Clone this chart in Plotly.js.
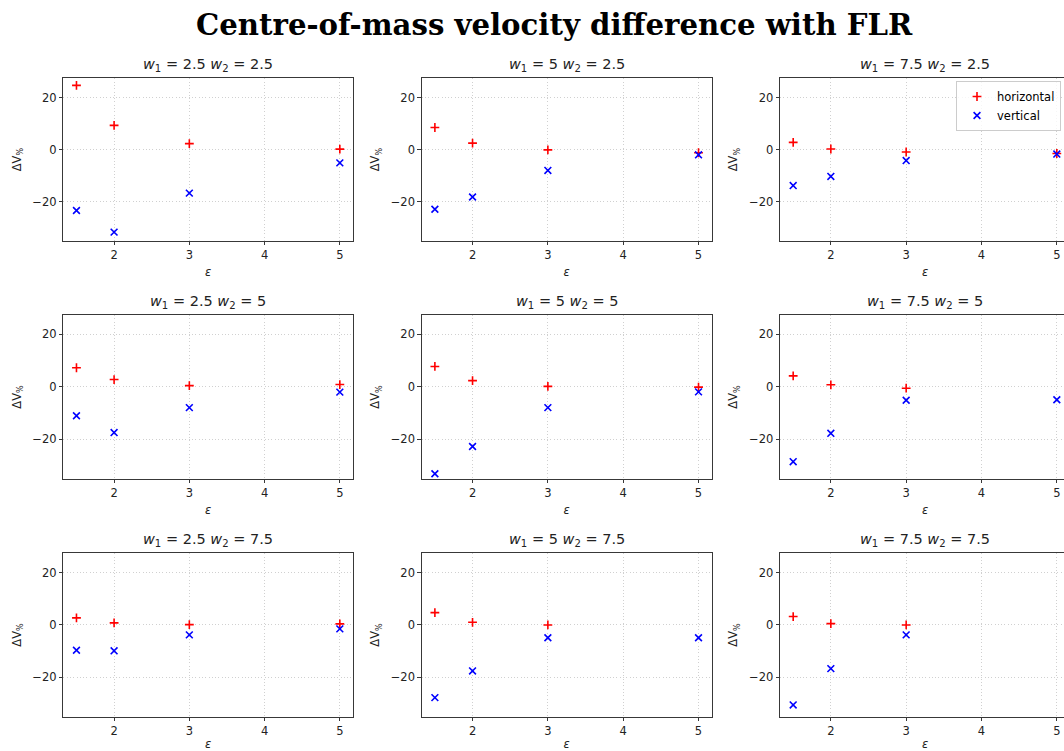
<!DOCTYPE html>
<html>
<head>
<meta charset="utf-8">
<script src="https://cdn.plot.ly/plotly-3.0.1.min.js"></script>
<style>
html, body { margin: 0; padding: 0; overflow: hidden; background: #fff; }
#chart { width: 1080px; height: 751px; }
</style>
</head>
<body>
<div id="chart"></div>
<script>
// ---- data ----
const epsilon = [1.5, 2, 3, 5];
const w1Values = ["2.5", "5", "7.5"];
const w2Values = ["2.5", "5", "7.5"];
// panels in row-major order: (w1, w2) = (2.5,2.5), (5,2.5), (7.5,2.5), (2.5,5), ...
const horizontal = [
  [24.7, 9.3, 2.3, 0.2],
  [8.5, 2.5, -0.1, -1.2],
  [2.8, 0.25, -0.9, -1.5],
  [7.3, 2.8, 0.5, 0.9],
  [7.8, 2.4, 0.2, -0.1],
  [4.2, 0.8, -0.5, null],
  [2.7, 0.8, 0.1, 0.4],
  [4.7, 1.0, 0.0, null],
  [3.2, 0.5, 0.0, null]
];
const vertical = [
  [-23.4, -31.7, -16.7, -5.1],
  [-22.9, -18.2, -8.0, -2.0],
  [-13.8, -10.3, -4.2, -1.7],
  [-11.0, -17.4, -7.9, -2.0],
  [-33.1, -22.7, -7.9, -1.9],
  [-28.5, -17.7, -5.1, -4.9],
  [-9.7, -9.9, -3.8, -1.5],
  [-27.8, -17.6, -4.9, -4.9],
  [-30.6, -16.7, -3.8, null]
];
const xTicks = [2, 3, 4, 5];
const yTicks = [-20, 0, 20];

// ---- layout geometry ----
const W = 1080, H = 751;
const colPx = [[63.3, 353], [421.7, 711.7], [780, 1070]];
const rowPx = [[78.3, 241], [315, 479], [553.3, 716.7]];
const FS = 11.5;

const traces = [];
const layout = {
  width: W, height: H,
  margin: {l: 0, r: 0, t: 0, b: 0},
  paper_bgcolor: '#fff', plot_bgcolor: '#fff',
  font: {family: 'DejaVu Sans', size: FS, color: '#000'},
  showlegend: true,
  legend: {
    x: 956 / W, y: 1 - 81 / H, xanchor: 'left', yanchor: 'top',
    bgcolor: 'rgba(255,255,255,0.8)', bordercolor: '#cccccc', borderwidth: 1,
    font: {family: 'DejaVu Sans', size: FS, color: '#000'},
    tracegroupgap: 0, itemwidth: 30
  },
  annotations: [{
    text: '<b>Centre-of-mass velocity difference with FLR</b>',
    xref: 'paper', yref: 'paper', x: 554 / W, y: 1 - 25 / H,
    xanchor: 'center', yanchor: 'middle', showarrow: false,
    font: {family: 'DejaVu Serif', size: 29.2, color: '#000'}
  }]
};

for (let r = 0; r < 3; r++) {
  for (let c = 0; c < 3; c++) {
    const i = r * 3 + c;
    const n = i + 1;
    const xa = n === 1 ? 'x' : 'x' + n;
    const ya = n === 1 ? 'y' : 'y' + n;
    traces.push({
      type: 'scatter', mode: 'markers', x: epsilon, y: horizontal[i],
      xaxis: xa, yaxis: ya, name: 'horizontal', showlegend: i === 0,
      marker: {symbol: 'cross-thin', size: 6.3, color: 'red', line: {color: 'red', width: 1.6}}
    });
    traces.push({
      type: 'scatter', mode: 'markers', x: epsilon, y: vertical[i],
      xaxis: xa, yaxis: ya, name: 'vertical', showlegend: i === 0,
      marker: {symbol: 'x-thin', size: 6.8, color: 'blue', line: {color: 'blue', width: 1.6}}
    });
    const axCommon = {
      showline: true, linecolor: '#222', linewidth: 0.9, mirror: true,
      ticks: 'outside', ticklen: 3.5, tickwidth: 0.9, tickcolor: '#222',
      showgrid: true, gridcolor: 'rgba(176,176,176,0.75)', gridwidth: 0.8, griddash: '1px,2.3px',
      zeroline: false, tickfont: {family: 'DejaVu Sans', size: FS, color: '#222'},
      fixedrange: true
    };
    layout['xaxis' + (n === 1 ? '' : n)] = Object.assign({}, axCommon, {
      domain: [colPx[c][0] / W, colPx[c][1] / W], anchor: ya,
      range: [1.325, 5.175], tickmode: 'array', tickvals: xTicks,
      title: {text: '<i>ε</i>', standoff: 6, font: {family: 'DejaVu Sans', size: FS, color: '#222'}}
    });
    layout['yaxis' + (n === 1 ? '' : n)] = Object.assign({}, axCommon, {
      domain: [1 - rowPx[r][1] / H, 1 - rowPx[r][0] / H], anchor: xa,
      range: [-35.1, 27.4], tickmode: 'array', tickvals: yTicks,
      title: {text: 'ΔV<sub>%</sub>', standoff: 8, font: {family: 'DejaVu Sans', size: FS, color: '#222'}}
    });
    layout.annotations.push({
      text: '<i>w</i><sub>1</sub> = ' + w1Values[c] + ' <i>w</i><sub>2</sub> = ' + w2Values[r],
      xref: 'paper', yref: 'paper',
      x: (colPx[c][0] + colPx[c][1]) / 2 / W, y: 1 - rowPx[r][0] / H,
      xanchor: 'center', yanchor: 'bottom', yshift: 2, showarrow: false,
      font: {family: 'DejaVu Sans', size: 14.5, color: '#222'}
    });
  }
}

Plotly.newPlot('chart', traces, layout, {displayModeBar: false, staticPlot: true});
</script>
</body>
</html>
